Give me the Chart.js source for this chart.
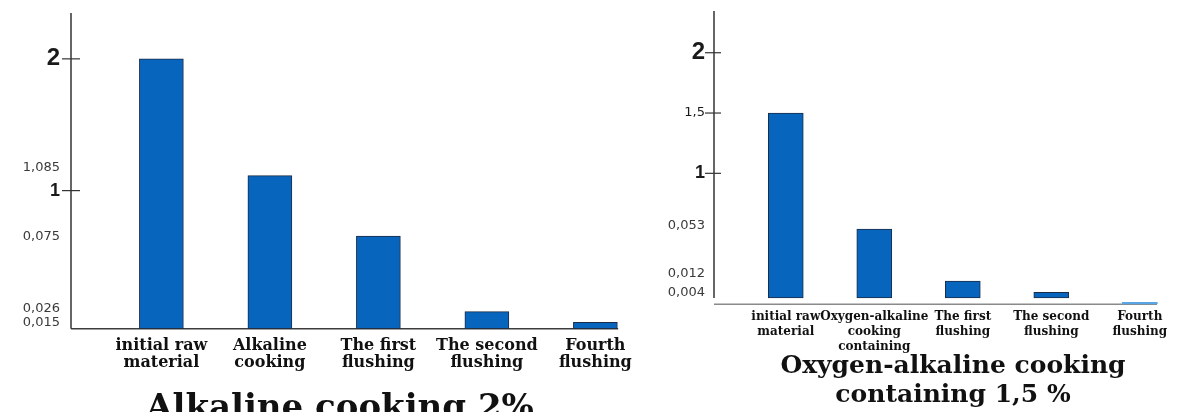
<!DOCTYPE html>
<html>
<head>
<meta charset="utf-8">
<script src="https://cdn.jsdelivr.net/npm/chart.js@4.4.1/dist/chart.umd.min.js"></script>
<style>
    body { margin: 0; background: #fff; width: 1182px; height: 412px; overflow: hidden; position: relative; }
    canvas { position: absolute; top: 0; }
    #leftChart { left: 0; }
    #rightChart { left: 650px; }
</style>
</head>
<body>
<canvas id="leftChart" width="680" height="412"></canvas>
<canvas id="rightChart" width="606" height="412"></canvas>
<script>
// Left panel: Alkaline cooking 2%
const leftCategories = [['initial raw', 'material'], ['Alkaline', 'cooking'], ['The first', 'flushing'], ['The second', 'flushing'], ['Fourth', 'flushing']];
const leftBarTops = [2.0, 1.114, 0.654, 0.081, 0.0];
const leftBarFloors = [-0.048, -0.048, -0.048, -0.048, -0.048];
const leftTickValues = [2, 1.177, 1, 0.649, 0.104, 0.0];
const leftTickLabels = ['2', '1,085', '1', '0,075', '0,026', '0,015'];
const leftMarkedTicks = ['2', '1'];
const leftTitle = 'Alkaline cooking 2%';

// Right panel: Oxygen-alkaline cooking containing 1,5 %
const rightCategories = [['initial raw', 'material'], ['Oxygen-alkaline', 'cooking', 'containing'], ['The first', 'flushing'], ['The second', 'flushing'], ['Fourth', 'flushing']];
const rightBarTops = [1.5, 0.538, 0.107, 0.013, -0.07];
const rightBarFloors = [-0.034, -0.034, -0.034, -0.034, -0.086];
const rightTickValues = [2, 1.5, 1, 0.566, 0.17, 0.012];
const rightTickLabels = ['2', '1,5', '1', '0,053', '0,012', '0,004'];
const rightMarkedTicks = ['2', '1,5', '1'];
const rightTitle = ['Oxygen-alkaline cooking', 'containing 1,5 %'];

const BAR_BLUE = '#0865bd';
const BAR_EDGE = '#1b2c46';

// y tick label fonts differ per label in the original
function yTickFont(label) {
    if (label === '2') return { family: "'Liberation Sans Narrow', 'Arial Narrow', sans-serif", size: 24, weight: 'bold' };
    if (label === '1') return { family: "'Liberation Sans', Arial, sans-serif", size: 18, weight: 'bold' };
    return { family: "'DejaVu Sans', sans-serif", size: 13 };
}

function tickLabelOf(c) {
    return c && c.tick ? c.tick.label : '';
}

// Axis lines and the short tick marks crossing the y axis
const axisLines = {
    id: 'axisLines',
    beforeDatasetsDraw(chart, args, opts) {
        const { ctx, chartArea: a, scales: { x, y } } = chart;
        ctx.save();
        ctx.lineWidth = 1.5;

        ctx.strokeStyle = opts.yColor;
        ctx.beginPath();
        ctx.moveTo(a.left, a.top);
        ctx.lineTo(a.left, opts.yEnd == null ? a.bottom : y.getPixelForValue(opts.yEnd));
        ctx.stroke();

        ctx.strokeStyle = opts.xColor;
        ctx.beginPath();
        ctx.moveTo(a.left, a.bottom);
        ctx.lineTo(x.getPixelForValue(opts.xEnd), a.bottom);
        ctx.stroke();

        ctx.strokeStyle = '#333';
        ctx.lineWidth = 1.2;
        y.ticks.forEach(t => {
            if (!opts.marked.includes(t.label)) return;
            const py = y.getPixelForValue(t.value);
            ctx.beginPath();
            ctx.moveTo(a.left - 9, py);
            ctx.lineTo(a.left + opts.markIn, py);
            ctx.stroke();
        });
        ctx.restore();
    }
};

function buildChart(id, p) {
    const isLight = c => p.lightLast && c.dataIndex === p.tops.length - 1;
    return new Chart(document.getElementById(id), {
        type: 'bar',
        data: {
            datasets: [{
                data: p.tops.map((t, i) => ({ x: i, y: [p.floors[i], t] })),
                backgroundColor: c => isLight(c) ? '#5aa5e6' : BAR_BLUE,
                borderColor: BAR_EDGE,
                borderWidth: c => isLight(c) ? 0 : 1,
                borderSkipped: false,
                barThickness: p.barThickness
            }]
        },
        options: {
            responsive: false,
            animation: false,
            layout: { padding: { top: p.padTop, right: 0, left: 0, bottom: 0 } },
            plugins: {
                legend: { display: false },
                tooltip: { enabled: false },
                title: {
                    display: true,
                    position: 'bottom',
                    text: p.title,
                    color: '#111',
                    font: p.titleFont,
                    padding: p.titlePadding
                },
                axisLines: { yColor: '#333', xColor: p.xColor, yEnd: p.yEnd, xEnd: p.xEnd, marked: p.marked, markIn: p.markIn }
            },
            scales: {
                x: {
                    type: 'linear',
                    offset: false,
                    min: p.xMin,
                    max: p.xMax,
                    grid: { display: false, drawTicks: false },
                    border: { display: false },
                    afterBuildTicks: s => { s.ticks = p.cats.map((c, i) => ({ value: i })); },
                    afterFit: s => { s.height = p.xHeight; s.paddingLeft = 0; s.paddingRight = 0; },
                    ticks: {
                        autoSkip: false,
                        maxRotation: 0,
                        minRotation: 0,
                        padding: p.xPad,
                        color: '#111',
                        font: p.catFont,
                        callback: (v, i) => p.cats[i]
                    }
                },
                y: {
                    min: p.yMin,
                    max: p.yMax,
                    grid: { display: false, drawTicks: false },
                    border: { display: false },
                    afterBuildTicks: s => { s.ticks = p.tickValues.map(v => ({ value: v })); },
                    afterFit: s => { s.width = p.yWidth; s.paddingTop = 0; s.paddingBottom = 0; },
                    ticks: {
                        autoSkip: false,
                        padding: p.yPad,
                        color: c => p.marked.includes(tickLabelOf(c)) ? '#1a1a1a' : '#3a3a3a',
                        font: c => yTickFont(tickLabelOf(c)),
                        callback: (v, i) => p.tickLabels[i]
                    }
                }
            }
        },
        plugins: [axisLines]
    });
}

buildChart('leftChart', {
    cats: leftCategories, tops: leftBarTops, floors: leftBarFloors,
    tickValues: leftTickValues, tickLabels: leftTickLabels, marked: leftMarkedTicks,
    title: leftTitle,
    titleFont: { family: "'DejaVu Serif', serif", weight: 'bold', size: 34, lineHeight: 1.2 },
    titlePadding: { top: 17.5, bottom: -17.5 },
    catFont: { family: "'DejaVu Serif', serif", weight: 'bold', size: 16, lineHeight: '17px' },
    barThickness: 44, lightLast: false,
    xMin: -0.833, xMax: 4.78, xEnd: 4.21, yMin: -0.048, yMax: 2.348,
    padTop: 13, yWidth: 71, xHeight: 42.5, xPad: 9, yPad: 11,
    xColor: '#3c3c3c', yEnd: null, markIn: 9
});

buildChart('rightChart', {
    cats: rightCategories, tops: rightBarTops, floors: rightBarFloors,
    tickValues: rightTickValues, tickLabels: rightTickLabels, marked: rightMarkedTicks,
    title: rightTitle,
    titleFont: { family: "'DejaVu Serif', serif", weight: 'bold', size: 25, lineHeight: '29px' },
    titlePadding: { top: -2.5, bottom: 2.5 },
    catFont: { family: "'DejaVu Serif', serif", weight: 'bold', size: 12, lineHeight: '15px' },
    barThickness: 35, lightLast: true,
    xMin: -0.811, xMax: 5.313, xEnd: 4.194, yMin: -0.086, yMax: 2.346,
    padTop: 11, yWidth: 64, xHeight: 49.7, xPad: 5, yPad: 9,
    xColor: '#8a8a8a', yEnd: -0.034, markIn: 7
});
</script>
</body>
</html>
